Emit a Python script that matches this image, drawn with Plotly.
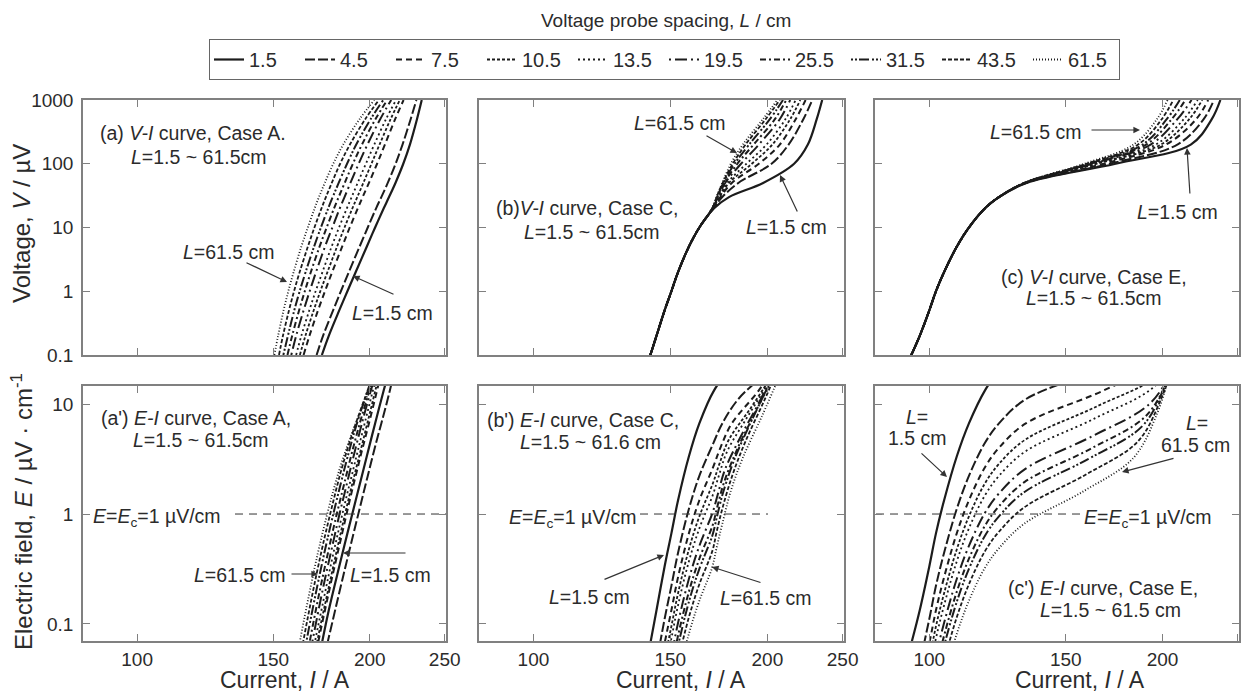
import plotly.graph_objects as go
import math

# ---------------- data ----------------
L_values = [1.5, 4.5, 7.5, 10.5, 13.5, 19.5, 25.5, 31.5, 43.5, 61.5]
L_labels = ["1.5", "4.5", "7.5", "10.5", "13.5", "19.5", "25.5", "31.5", "43.5", "61.5"]

# voltage levels (µV) at which the current was read for each curve
V_levels = [0.1, 0.2, 0.5, 1, 2, 5, 10, 20, 30, 50, 100, 200, 500, 1000]

# Case A: current (A) at each voltage level, one row per probe spacing L
caseA_I = [
    [173.4, 177.0, 182.6, 187.1, 191.8, 198.2, 203.2, 208.5, 211.8, 215.9, 221.0, 225.4, 230.2, 233.5],
    [170.7, 174.0, 179.3, 183.5, 187.9, 194.0, 198.8, 203.8, 207.0, 211.0, 216.0, 220.5, 225.9, 229.8],
    [164.2, 167.1, 171.4, 175.0, 178.8, 184.2, 188.4, 193.0, 195.8, 199.5, 204.4, 209.2, 215.7, 221.2],
    [162.4, 165.1, 169.2, 172.6, 176.3, 181.4, 185.5, 189.9, 192.7, 196.2, 201.0, 205.9, 212.8, 218.7],
    [160.6, 163.1, 167.0, 170.2, 173.7, 178.5, 182.5, 186.8, 189.5, 192.9, 197.7, 202.7, 209.9, 216.3],
    [158.3, 160.6, 164.2, 167.2, 170.4, 175.0, 178.9, 182.9, 185.5, 188.8, 193.5, 198.6, 206.3, 213.2],
    [156.5, 158.7, 162.0, 164.8, 167.8, 172.2, 175.9, 179.8, 182.3, 185.6, 190.2, 195.4, 203.4, 210.7],
    [154.6, 156.7, 159.7, 162.3, 165.2, 169.4, 172.9, 176.7, 179.1, 182.3, 186.9, 192.1, 200.5, 208.2],
    [152.6, 154.4, 157.2, 159.6, 162.3, 166.3, 169.6, 173.2, 175.5, 178.6, 183.1, 188.5, 197.3, 205.5],
    [150.5, 152.2, 154.7, 156.9, 159.4, 163.1, 166.3, 169.7, 171.9, 174.9, 179.4, 184.8, 194.0, 202.7],
]

# Case C: common low-voltage part (V = 0.1 ... 10 µV) and per-L upper part (V = 20 ... 1000 µV)
caseC_common = [141.4, 144.0, 147.5, 150.5, 153.5, 158.5, 163.5]
caseC_upper = [
    [170.8, 178.5, 197.5, 216.5, 225.5, 231.5, 235.3],
    [170.5, 175.0, 183.5, 202.5, 213.0, 222.5, 228.5],
    [170.3, 174.0, 180.0, 195.0, 207.5, 217.5, 224.0],
    [170.2, 173.5, 178.5, 191.0, 203.0, 214.0, 220.5],
    [170.1, 173.2, 177.5, 188.0, 199.5, 211.0, 217.5],
    [170.0, 172.8, 176.5, 185.0, 195.0, 207.5, 214.0],
    [170.0, 172.5, 176.0, 183.0, 192.0, 204.5, 211.5],
    [169.9, 172.3, 175.5, 181.5, 189.5, 201.5, 209.5],
    [169.9, 172.1, 175.2, 180.5, 187.5, 199.0, 207.5],
    [169.8, 172.0, 175.0, 179.5, 186.0, 197.4, 206.0],
]

# Case E: common low-voltage part (V = 0.1 ... 30 µV) and per-L upper part (V = 50 ... 1000 µV)
caseE_common = [94.8, 97.2, 100.0, 102.0, 104.5, 108.5, 112.5, 118.0, 123.0]
caseE_upper = [
    [133.5, 174.0, 217.5, 231.5, 237.5],
    [133.3, 171.0, 209.0, 226.0, 233.0],
    [133.2, 168.0, 202.0, 221.0, 229.0],
    [133.1, 164.5, 199.0, 216.5, 225.0],
    [133.0, 163.5, 196.0, 213.0, 222.0],
    [132.9, 162.5, 193.0, 209.0, 218.0],
    [132.8, 161.5, 190.5, 205.5, 214.0],
    [132.7, 160.5, 188.5, 202.5, 210.5],
    [132.6, 159.5, 186.0, 199.5, 206.5],
    [132.5, 158.5, 183.5, 196.7, 203.0],
]

E_c = 1.0  # criterion electric field, µV/cm
I_ticks = [100, 150, 200, 250]
V_ticks = [0.1, 1, 10, 100, 1000]
E_ticks = [0.1, 1, 10]

caseC_I = [caseC_common + row for row in caseC_upper]
caseE_I = [caseE_common + row for row in caseE_upper]

# ---------------- style ----------------
W, H = 1252, 695
FONT = "Liberation Sans, Arial, sans-serif"
TXT = "#2b2b2b"
FRAME = "#808080"
LINE = "#1c1c1c"
dashes = ["solid", "10px,3px", "6px,4px", "3px,2px", "2px,3px",
          "2px,4px,12px,4px", "6px,3px,2px,3px", "2px,2px,2px,2px,10px,3px",
          "4px,2px", "1px,2px"]
widths = [2.2, 2.0, 2.0, 1.8, 1.8, 2.0, 2.0, 2.0, 1.8, 1.8]

cols = [(83, 446), (479, 844), (875, 1239)]
rows = [(100, 355), (386, 641)]
xr = [math.log10(85.1), math.log10(251)]
yr_top = [-1, 3]
yr_bot = [math.log10(0.07), math.log10(14.6)]


def px(x):
    return x / W


def py(y):
    return 1 - y / H


def px_to_I(xpx, col):
    x0, x1 = cols[col]
    return 10 ** (xr[0] + (xpx - x0) / (x1 - x0) * (xr[1] - xr[0]))


fig = go.Figure()

cases = [caseA_I, caseC_I, caseE_I]
for ci, case in enumerate(cases):
    top = str(ci + 1) if ci > 0 else ""
    bot = str(ci + 4)
    for k, (L, lab) in enumerate(zip(L_values, L_labels)):
        Icur = case[k]
        line = dict(color=LINE, width=widths[k], dash=dashes[k], shape="spline", smoothing=1.0)
        fig.add_trace(go.Scatter(
            x=Icur, y=V_levels, mode="lines", line=line, name=lab,
            legendgroup=lab, showlegend=(ci == 0),
            xaxis="x" + top, yaxis="y" + top, hoverinfo="skip"))
        E_vals = [v / L for v in V_levels]
        fig.add_trace(go.Scatter(
            x=Icur, y=E_vals, mode="lines", line=line, name=lab,
            legendgroup=lab, showlegend=False,
            xaxis="x" + bot, yaxis="y" + bot, hoverinfo="skip"))

# E = Ec reference lines (dashed)
for col, (xa, xb) in enumerate(((235, 446), (640, 768), (876, 1080))):
    fig.add_trace(go.Scatter(
        x=[px_to_I(xa, col), px_to_I(xb, col)], y=[E_c, E_c], mode="lines",
        line=dict(color="#333", width=1, dash="8px,6px"), showlegend=False,
        xaxis="x%d" % (col + 4), yaxis="y%d" % (col + 4), hoverinfo="skip"))

# ---------------- axes ----------------
axis_common = dict(
    showline=True, linecolor=FRAME, linewidth=1.5, mirror="allticks",
    ticks="inside", ticklen=7, tickwidth=1.2, tickcolor=FRAME,
    showgrid=False, zeroline=False, type="log", automargin=False,
    tickfont=dict(size=19, color=TXT, family=FONT),
)

layout_axes = {}
for r, (y0, y1) in enumerate(rows):
    for c, (x0, x1) in enumerate(cols):
        idx = r * 3 + c + 1
        xs = "xaxis" if idx == 1 else "xaxis%d" % idx
        ys = "yaxis" if idx == 1 else "yaxis%d" % idx
        xa = dict(axis_common)
        xa.update(domain=[px(x0), px(x1)], range=xr,
                  anchor="y" if idx == 1 else "y%d" % idx,
                  tickvals=I_ticks, ticktext=[str(t) for t in I_ticks],
                  showticklabels=(r == 1))
        ya = dict(axis_common)
        if r == 0:
            ya.update(range=yr_top, tickvals=V_ticks, ticktext=["0.1", "1", "10", "100", "1000"])
        else:
            ya.update(range=yr_bot, tickvals=E_ticks, ticktext=["0.1", "1", "10"])
        ya.update(domain=[py(y1), py(y0)],
                  anchor="x" if idx == 1 else "x%d" % idx,
                  showticklabels=(c == 0), ticklabelstandoff=4)
        layout_axes[xs] = xa
        layout_axes[ys] = ya

# ---------------- annotations ----------------
ann = []
FS = 19.5


def text(t, x, y, size=FS, angle=0):
    ann.append(dict(x=px(x), y=py(y), xref="paper", yref="paper", text=t,
                    showarrow=False, xanchor="center", yanchor="middle",
                    textangle=angle, font=dict(size=size, color=TXT, family=FONT)))


def arrow(tx, ty, hx, hy):
    ann.append(dict(x=px(hx), y=py(hy), xref="paper", yref="paper", text="",
                    showarrow=True, axref="pixel", ayref="pixel",
                    ax=tx - hx, ay=ty - hy, arrowhead=2, arrowsize=1.1,
                    arrowwidth=1.2, arrowcolor="#333", standoff=0))


Lit = "<i>L</i>"
Ec_txt = "<i>E</i>=<i>E</i><sub>c</sub>=1 \u00b5V/cm"

# panel a
text("(a) <i>V-I</i> curve, Case A.", 193, 133)
text(Lit + "=1.5 ~ 61.5cm", 199, 157)
text(Lit + "=61.5 cm", 229, 252)
arrow(245, 262, 287, 282)
text(Lit + "=1.5 cm", 392, 313)
arrow(395, 295, 353, 276)
# panel b
text("(b)<i>V-I</i> curve, Case C,", 587, 208)
text(Lit + "=1.5 ~ 61.5cm", 592, 232)
text(Lit + "=61.5 cm", 680, 123)
arrow(705, 135, 737, 153)
text(Lit + "=1.5 cm", 786, 227)
arrow(798, 213, 780, 175)
# panel c
text(Lit + "=61.5 cm", 1036, 132)
arrow(1090, 130, 1140, 130)
text(Lit + "=1.5 cm", 1177, 212)
arrow(1190, 195, 1187, 148)
text("(c) <i>V-I</i> curve, Case E,", 1094, 277)
text(Lit + "=1.5 ~ 61.5cm", 1094, 298)
# panel a'
text("(a') <i>E-I</i> curve, Case A,", 196, 418)
text(Lit + "=1.5 ~ 61.5cm", 201, 440)
text(Ec_txt, 157, 517)
text(Lit + "=61.5 cm", 240, 575)
arrow(290, 574, 318, 574)
text(Lit + "=1.5 cm", 390, 575)
arrow(407, 553, 343, 553)
# panel b'
text("(b') <i>E-I</i> curve, Case C,", 583, 420)
text(Lit + "=1.5 ~ 61.6 cm", 590, 442)
text(Ec_txt, 573, 518)
text(Lit + "=1.5 cm", 589, 597)
arrow(603, 580, 664, 555)
text(Lit + "=61.5 cm", 766, 598)
arrow(762, 583, 712, 567)
# panel c'
text(Lit + "=", 917, 417)
text("1.5 cm", 917, 438)
arrow(920, 452, 947, 477)
text(Lit + "=", 1197, 423)
text("61.5 cm", 1195, 445)
arrow(1175, 458, 1122, 472)
text(Ec_txt, 1148, 518)
text("(c') <i>E-I</i> curve, Case E,", 1103, 588)
text(Lit + "=1.5 ~ 61.5 cm", 1110, 610)

# axis titles
text("Voltage, <i>V</i> / \u00b5V", 22, 224, size=24, angle=-90)
text("Electric field, <i>E</i> / \u00b5V \u00b7 cm<sup>-1</sup>", 22, 512, size=24, angle=-90)
for xc in (285, 681, 1080):
    text("Current, <i>I</i> / A", xc, 680, size=23)
# legend title
text("Voltage probe spacing, " + Lit + " / cm", 666, 21, size=19)

fig.update_layout(
    width=W, height=H,
    margin=dict(l=0, r=0, t=0, b=0, autoexpand=False),
    paper_bgcolor="white", plot_bgcolor="white",
    font=dict(family=FONT, color=TXT),
    showlegend=True,
    legend=dict(orientation="h", x=px(209), y=py(39), xanchor="left", yanchor="top",
                bordercolor="#666", borderwidth=1, bgcolor="white",
                font=dict(size=20, color=TXT, family=FONT),
                entrywidth=46, itemwidth=30, tracegroupgap=0),
    annotations=ann,
    **layout_axes,
)

fig.write_html("out.html", config={"displayModeBar": False},
               post_script="document.body.style.margin='0px';")
